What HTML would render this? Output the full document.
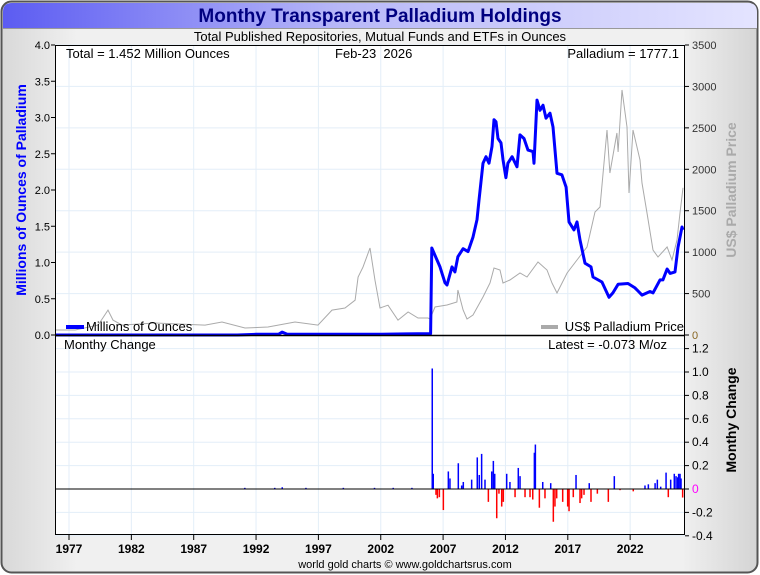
<!DOCTYPE html>
<html><head><meta charset="utf-8">
<style>
html,body{margin:0;padding:0;background:#fff;}
svg{display:block;font-family:"Liberation Sans",Arial,sans-serif;}
</style></head>
<body>
<svg id="chart" width="760" height="575" viewBox="0 0 760 575" xmlns="http://www.w3.org/2000/svg">
<defs>
<linearGradient id="tg" x1="0" x2="1" y1="0" y2="0"><stop offset="0" stop-color="#5c5cf2"/><stop offset="0.45" stop-color="#b8b8f8"/><stop offset="1" stop-color="#e4e4ff"/></linearGradient>
<linearGradient id="bg" x1="0" x2="1" y1="0" y2="0"><stop offset="0" stop-color="#d8d8d8"/><stop offset="0.1" stop-color="#f0f0f0"/><stop offset="0.9" stop-color="#f0f0f0"/><stop offset="1" stop-color="#d4d4d4"/></linearGradient>
</defs>
<rect x="1.5" y="1.5" width="756" height="571" rx="10" fill="url(#bg)" stroke="#555" stroke-width="2"/>
<path d="M3,28 V12 Q3,3 12,3 H748 Q757,3 757,12 V28 Z" fill="url(#tg)"/>
<line x1="3" y1="28.5" x2="757" y2="28.5" stroke="#999" stroke-width="1"/>
<text x="380" y="22" text-anchor="middle" font-size="19" font-weight="bold" fill="#000080">Monthy Transparent Palladium Holdings</text>
<text x="380" y="41" text-anchor="middle" font-size="13" fill="#000">Total Published Repositories, Mutual Funds and ETFs in Ounces</text>
<rect x="55" y="45" width="630" height="490" fill="#fff"/>
<g id="grid"></g>
<g id="bars"></g>
<g id="lines"></g>
<g id="axes"></g>
<text x="66" y="58" font-size="13">Total = 1.452 Million Ounces</text>
<text x="335" y="58" font-size="13" xml:space="preserve">Feb-23  2026</text>
<text x="679" y="58" text-anchor="end" font-size="13">Palladium = 1777.1</text>
<line x1="66" y1="327" x2="84" y2="327" stroke="#0000ff" stroke-width="4"/>
<text x="86" y="331" font-size="13">Millions of Ounces</text>
<line x1="541" y1="327" x2="558" y2="327" stroke="#aaa" stroke-width="4"/>
<text x="684" y="331" text-anchor="end" font-size="13">US$ Palladium Price</text>
<text x="64" y="349" font-size="13">Monthy Change</text>
<text x="667" y="349" text-anchor="end" font-size="13">Latest = -0.073 M/oz</text>
<text transform="translate(26,190) rotate(-90)" text-anchor="middle" font-size="14" font-weight="bold" fill="#0000ff">Millions of Ounces of Palladium</text>
<text transform="translate(736,190) rotate(-90)" text-anchor="middle" font-size="14" font-weight="bold" fill="#aaa">US$ Palladium Price</text>
<text transform="translate(736,420) rotate(-90)" text-anchor="middle" font-size="14" font-weight="bold" fill="#000">Monthy Change</text>
<text x="405" y="568" text-anchor="middle" font-size="11">world gold charts © www.goldchartsrus.com</text>
</svg>
<script>
const holdYears=[1975.9,1990.5,1992.0,1993.8,1994.1,1994.5,1996.0,1998.0,2000.0,2002.0,2004.0,2005.9,2006.0,2006.09,2006.75,2007.15,2007.31,2007.71,2007.95,2008.19,2008.60,2009.00,2009.40,2009.72,2009.88,2010.20,2010.44,2010.68,2010.92,2011.08,2011.24,2011.40,2011.64,2011.80,2012.04,2012.20,2012.53,2012.93,2013.17,2013.49,2013.81,2014.21,2014.29,2014.53,2014.77,2015.01,2015.25,2015.57,2015.81,2016.13,2016.53,2016.86,2017.10,2017.50,2017.74,2017.98,2018.38,2018.86,2019.02,2019.74,2020.30,2020.62,2021.03,2021.83,2022.39,2022.95,2023.59,2023.83,2024.39,2024.63,2024.96,2025.20,2025.60,2025.84,2026.16,2026.24];
const holdValues=[0,0,0.01,0.01,0.04,0.01,0.01,0.01,0.01,0.01,0.015,0.02,0.02,1.20,0.94,0.72,0.69,0.94,0.87,1.08,1.19,1.15,1.35,1.59,1.86,2.37,2.46,2.37,2.60,2.97,2.94,2.71,2.65,2.42,2.17,2.37,2.46,2.32,2.76,2.71,2.55,2.53,2.37,3.24,3.10,3.17,2.99,3.06,2.87,2.23,2.21,2.04,1.56,1.45,1.56,1.31,0.99,0.94,0.80,0.73,0.52,0.58,0.70,0.71,0.65,0.55,0.60,0.58,0.76,0.76,0.91,0.85,0.87,1.21,1.49,1.45];
const priceYears=[1975.88,1977.5,1979.33,1980.13,1980.53,1981.25,1983.90,1987.91,1989.27,1991.11,1992.96,1995.12,1996.97,1998.09,1999.13,1999.94,2000.18,2000.58,2001.14,2001.54,2001.94,2002.58,2003.38,2004.19,2004.99,2005.79,2005.95,2006.35,2007.31,2008.11,2008.19,2008.60,2008.92,2009.40,2010.20,2010.76,2011.08,2011.56,2011.80,2012.36,2013.17,2013.73,2014.61,2015.33,2015.73,2016.13,2016.94,2017.74,2018.54,2019.18,2019.58,2020.14,2020.38,2020.94,2021.03,2021.35,2021.75,2021.91,2022.23,2022.79,2022.95,2023.35,2023.83,2024.23,2024.96,2025.36,2025.76,2026.00,2026.24];
const priceValues=[60,60,120,300,180,120,145,120,157,85,97,157,120,300,326,420,700,820,1050,660,326,360,180,278,205,205,193,338,362,398,543,302,193,241,459,628,809,785,628,664,748,700,881,785,628,507,748,905,1062,1485,1545,2474,1955,2438,2209,2957,2510,1714,2474,2112,1835,1473,1026,941,1062,905,1147,1473,1777];
const changeYears=[1991.1,1993.5,1994.1,1996.0,1999.0,2001.5,2003.0,2004.5,2006.13,2006.21,2006.43,2006.54,2006.70,2007.02,2007.42,2007.55,2008.22,2008.49,2008.62,2009.29,2009.74,2009.90,2010.09,2010.36,2010.63,2010.90,2011.03,2011.14,2011.30,2011.48,2011.70,2011.83,2012.10,2012.36,2012.77,2013.03,2013.17,2013.57,2013.97,2014.19,2014.32,2014.40,2014.72,2014.99,2015.17,2015.63,2015.84,2015.97,2016.11,2016.59,2016.99,2017.10,2017.44,2017.66,2017.98,2018.11,2018.30,2018.72,2018.86,2019.37,2020.25,2020.73,2021.19,2022.25,2023.19,2023.46,2024.00,2024.18,2024.45,2024.88,2025.06,2025.25,2025.54,2025.68,2025.81,2025.89,2026.00,2026.08,2026.21];
const changeValues=[0.01,0.01,0.015,0.01,0.01,0.01,0.01,0.01,1.03,0.13,-0.05,-0.08,-0.07,-0.18,0.15,0.09,0.22,0.03,0.06,0.08,0.27,0.12,0.30,0.08,-0.11,0.15,0.24,0.13,-0.25,-0.04,-0.15,-0.11,0.13,0.06,-0.07,0.18,0.11,-0.07,-0.07,-0.09,0.31,0.38,-0.16,0.06,-0.08,0.05,-0.28,-0.15,-0.08,-0.11,-0.15,-0.19,-0.07,0.12,-0.12,-0.08,-0.05,0.05,-0.11,-0.04,-0.11,0.11,-0.01,-0.02,0.03,0.04,0.05,0.08,0.02,0.14,-0.07,0.08,0.13,0.11,0.10,0.13,0.13,0.09,-0.073];
const yearTicks=[1977,1982,1987,1992,1997,2002,2007,2012,2017,2022];
const holdTicks=["0.0","0.5","1.0","1.5","2.0","2.5","3.0","3.5","4.0"];
const priceTicks=[0,500,1000,1500,2000,2500,3000,3500];
const changeTicks=[-0.4,-0.2,0,0.2,0.4,0.6,0.8,1.0,1.2];

const NS="http://www.w3.org/2000/svg";
const X=y=>69+(y-1977)*12.47;
const YH=v=>335-v*72.5;
const YP=v=>335-v*290/3500;
const YC=v=>489-v*117;
function mk(tag,attrs,parent,txt){const e=document.createElementNS(NS,tag);for(const k in attrs)e.setAttribute(k,attrs[k]);if(txt!==undefined)e.textContent=txt;parent.appendChild(e);return e;}
const grid=document.getElementById('grid'),bars=document.getElementById('bars'),lines=document.getElementById('lines'),axes=document.getElementById('axes');
yearTicks.forEach(y=>{const l=mk('line',{x1:X(y),x2:X(y),y1:45,y2:535,stroke:'#e3eef8','stroke-width':1},grid);

});
priceTicks.forEach(p=>{if(p===0)return;const l=mk('line',{x1:55,x2:685,y1:YP(p),y2:YP(p),stroke:'#e3eef8','stroke-width':1},grid);

});
changeTicks.forEach(c=>{if(c===0)return;const l=mk('line',{x1:55,x2:685,y1:YC(c),y2:YC(c),stroke:'#e3eef8','stroke-width':1},grid);

});
// bars
changeYears.forEach((y,i)=>{const v=changeValues[i];const y0=YC(0),y1=YC(v);
const r=mk('rect',{x:X(y)-0.75,y:Math.min(y0,y1),width:1.5,height:Math.max(0.6,Math.abs(y1-y0)),fill:v>=0?'#0000ff':'#ff0000'},bars);

});
const zl=mk('line',{x1:55,x2:685,y1:YC(0),y2:YC(0),stroke:'#000','stroke-width':1},bars);


// price line
const pp=mk('polyline',{points:priceYears.map((y,i)=>X(y).toFixed(1)+','+YP(priceValues[i]).toFixed(1)).join(' '),fill:'none',stroke:'#aaa','stroke-width':1},lines);


const hp=mk('polyline',{points:holdYears.map((y,i)=>X(y).toFixed(1)+','+YH(holdValues[i]).toFixed(1)).join(' '),fill:'none',stroke:'#0000ff','stroke-width':3,'stroke-linejoin':'round'},lines);


// axes frame
const fr=mk('rect',{x:55.5,y:45.5,width:629,height:489,fill:'none',stroke:'#000','stroke-width':1},axes);


const sep=mk('line',{x1:55,x2:685,y1:335.5,y2:335.5,stroke:'#000','stroke-width':1.5},axes);


holdTicks.forEach(t=>{const y=YH(parseFloat(t));mk('line',{x1:51,x2:55,y1:y,y2:y,stroke:'#000'},axes);
const tx=mk('text',{x:50,y:y+4,'text-anchor':'end','font-size':11},axes,t);

});
priceTicks.forEach(p=>{const y=YP(p);mk('line',{x1:685,x2:689,y1:y,y2:y,stroke:'#000'},axes);
const tx=mk('text',{x:692,y:y+4,'font-size':11,fill:p===0?'#886622':'#333'},axes,String(p));

});
changeTicks.forEach(c=>{const y=YC(c);mk('line',{x1:685,x2:689,y1:y,y2:y,stroke:'#000'},axes);
const lbl=c===0?'0':c.toFixed(1);
const tx=mk('text',{x:692,y:y+4,'font-size':12,fill:c===0?'#ff00ff':'#000'},axes,lbl);

});
yearTicks.forEach(y=>{mk('line',{x1:X(y),x2:X(y),y1:535,y2:540,stroke:'#000'},axes);
const tx=mk('text',{x:X(y),y:553,'text-anchor':'middle','font-size':12,'font-weight':'bold'},axes,String(y));

});
</script>
</body></html>
